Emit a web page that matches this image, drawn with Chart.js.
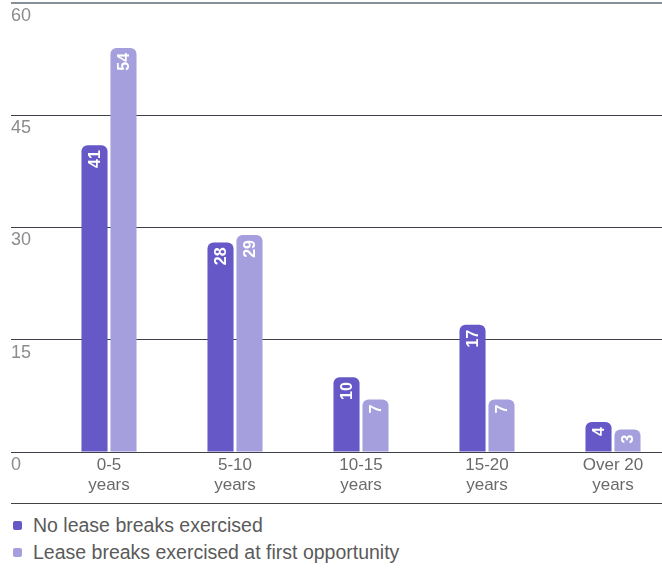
<!DOCTYPE html>
<html>
<head>
<meta charset="utf-8">
<script src="https://cdn.jsdelivr.net/npm/chart.js@4/dist/chart.umd.min.js"></script>
<style>
  html, body { margin: 0; padding: 0; background: #fff; overflow: hidden; width: 662px; height: 568px; }
  #wrap { position: relative; width: 676px; height: 500px; }
  #legend { position: absolute; top: 503px; left: 11px; width: 651px; border-top: 1px solid #444; padding-top: 8px;
            font-family: "Liberation Sans", Arial, sans-serif; font-size: 19.5px; color: #5a5a5a; }
  .item { height: 27px; line-height: 27px; display: flex; align-items: center; }
  .sw { width: 9px; height: 9px; border-radius: 2px; margin-left: 2px; margin-right: 11px; }
</style>
</head>
<body>
<div id="wrap"><canvas id="c" width="676" height="500"></canvas></div>
<div id="legend"></div>
<script>
const categories = [["0-5", "years"], ["5-10", "years"], ["10-15", "years"], ["15-20", "years"], ["Over 20", "years"]];
const seriesNames = ["No lease breaks exercised", "Lease breaks exercised at first opportunity"];
const noBreaks = [41, 28, 10, 17, 4];
const breaksFirst = [54, 29, 7, 7, 3];
const yTicks = [0, 15, 30, 45, 60];
const colors = ["#6658c6", "#a69fdd"];

const barLabels = {
  id: 'barLabels',
  afterDatasetsDraw(chart) {
    const ctx = chart.ctx;
    ctx.save();
    ctx.fillStyle = '#fff';
    ctx.font = 'bold 16px "Liberation Sans", Arial, sans-serif';
    ctx.textAlign = 'right';
    ctx.textBaseline = 'middle';
    chart.data.datasets.forEach((ds, di) => {
      const meta = chart.getDatasetMeta(di);
      meta.data.forEach((el, i) => {
        ctx.save();
        ctx.translate(el.x + 1, el.y + 5);
        ctx.rotate(-Math.PI / 2);
        ctx.fillText(String(ds.data[i]), 0, 0);
        ctx.restore();
      });
    });
    ctx.restore();
  }
};

new Chart(document.getElementById('c'), {
  type: 'bar',
  data: {
    labels: categories,
    datasets: [
      { label: seriesNames[0], data: noBreaks, backgroundColor: colors[0] },
      { label: seriesNames[1], data: breaksFirst, backgroundColor: colors[1] }
    ]
  },
  options: {
    responsive: false,
    animation: false,
    devicePixelRatio: 1,
    layout: { padding: { top: 3, left: 11, right: 0, bottom: 0 } },
    datasets: {
      bar: {
        categoryPercentage: 0.46,
        barPercentage: 0.9,
        borderRadius: { topLeft: 6, topRight: 6, bottomLeft: 0, bottomRight: 0 },
        borderSkipped: 'bottom'
      }
    },
    plugins: { legend: { display: false }, tooltip: { enabled: false } },
    scales: {
      x: {
        grid: { display: false, drawTicks: false },
        border: { display: false },
        ticks: {
          color: '#6a6a6a',
          padding: 3,
          font: { family: '"Liberation Sans", Arial, sans-serif', size: 17, lineHeight: 1.2 },
          maxRotation: 0, autoSkip: false
        },
        afterFit(s) { s.height = 48; }
      },
      y: {
        min: 0, max: 60,
        afterBuildTicks(s) { s.ticks = yTicks.map(v => ({ value: v })); },
        grid: {
          drawTicks: true,
          tickLength: 35,
          color: ctx => ctx.tick && ctx.tick.value === 60 ? '#879096' : '#3d4248',
          lineWidth: ctx => ctx.tick && ctx.tick.value === 60 ? 2 : 1
        },
        border: { display: false },
        ticks: {
          mirror: true,
          padding: -35,
          labelOffset: 13,
          color: '#8c8c8c',
          font: { family: '"Liberation Sans", Arial, sans-serif', size: 18 }
        },
        afterFit(s) { s.width = 35; }
      }
    }
  },
  plugins: [barLabels]
});

const lg = document.getElementById('legend');
seriesNames.forEach((n, i) => {
  const d = document.createElement('div');
  d.className = 'item';
  d.innerHTML = '<span class="sw" style="background:' + colors[i] + '"></span><span>' + n + '</span>';
  lg.appendChild(d);
});
</script>
</body>
</html>
